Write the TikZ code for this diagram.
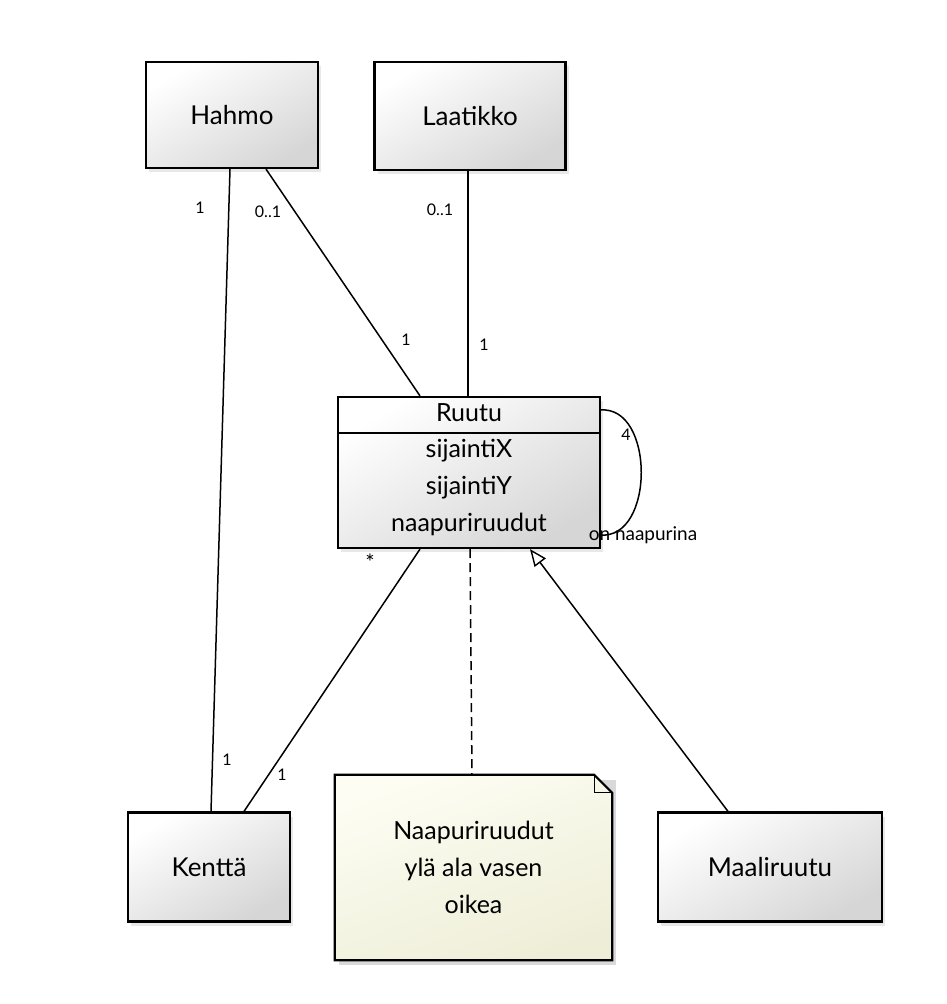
\documentclass[tikz,border=0pt]{standalone}
\usepackage{fontspec}
\setmainfont{Lato}
\usetikzlibrary{arrows.meta,shadows}

\definecolor{notetop}{HTML}{FDFDF3}
\definecolor{notebottom}{HTML}{EEEED8}
\definecolor{boxbottom}{HTML}{D6D6D6}

\tikzset{
  classbox/.style={draw, line width=2.2pt, top color=white, bottom color=boxbottom,
    shading angle=30, drop shadow={opacity=.18, shadow xshift=3pt, shadow yshift=-4pt},
    font=\fontsize{26}{30}\selectfont},
  mult/.style={font=\fontsize{16}{18}\selectfont, inner sep=1pt},
  assoc/.style={line width=1.5pt},
  attr/.style={font=\fontsize{25}{37}\selectfont, align=center, inner sep=0pt}
}

\begin{document}
\begin{tikzpicture}
  [x=1pt,y=-1pt]
  \useasboundingbox (0,0) rectangle (946,1004);
  % classes
  \node[classbox, minimum width=172pt, minimum height=106pt] (hahmo) at (232,115) {Hahmo};
  \node[classbox, minimum width=191pt, minimum height=108pt] (laatikko) at (470,116) {Laatikko};
  \node[classbox, minimum width=162pt, minimum height=109pt] (kentta) at (209,867) {Kenttä};
  \node[classbox, minimum width=224pt, minimum height=109pt] (maali) at (770,867) {Maaliruutu};
  \node[classbox, minimum width=262pt, minimum height=151pt] (ruutu) at (469,472.5) {};
  \draw[line width=1.6pt] (338,433) -- (600,433);
  \node[attr] (ruutunimi) at (469,413) {Ruutu};
  \node[attr] (ruutuattr) at (469,487) {sijaintiX\\sijaintiY\\naapuriruudut};

  % note
  \node[minimum width=277pt, minimum height=185pt, inner sep=0pt] (note) at (473.5,867.5) {};
  \fill[black, opacity=.15] ([shift={(4pt,-5pt)}]note.south west) -- ([shift={(4pt,-5pt)}]note.north west)
    -- ([shift={(4pt,-5pt)}]note.north east) -- ([shift={(4pt,-5pt)}]note.south east) -- cycle;
  \draw[line width=2.2pt, top color=notetop, bottom color=notebottom, shading angle=20]
    (note.south west) -- (note.north west) -- ([xshift=-18pt]note.north east)
    -- ([yshift=-18pt]note.north east) -- (note.south east) -- cycle;
  \draw[line width=1.2pt] ([xshift=-18pt]note.north east) |- ([yshift=-18pt]note.north east);
  \node[attr] (notetext) at (note.center) {Naapuriruudut\\ylä ala vasen\\oikea};

  % associations
  \draw[assoc] ([xshift=-2pt]hahmo.south) -- ([xshift=2pt]kentta.north);
  \draw[assoc] ([xshift=34pt]hahmo.south) -- ([xshift=-49pt]ruutu.north);
  \draw[assoc] ([xshift=-2pt]laatikko.south) -- ([xshift=-1pt]ruutu.north);
  \draw[assoc] ([xshift=-49pt]ruutu.south) -- ([xshift=35pt]kentta.north);
  \draw[assoc, dashed, dash pattern=on 9pt off 5pt] ([xshift=1pt]ruutu.south) -- ([xshift=-1.5pt]note.north);
  \draw[assoc, -{Triangle[open, length=17pt, width=14pt, line width=1.4pt]}]
    ([xshift=-42pt]maali.north) -- ([xshift=61pt]ruutu.south);

  % self association
  \coordinate (loopa) at (600,410);
  \coordinate (loopb) at (600,535);
  \draw[assoc] (loopa) .. controls (655,405) and (655,540) .. (loopb);

  % multiplicities
  \node[mult] (m1) at (200,208) {1};
  \node[mult] (m2) at (227,760) {1};
  \node[mult] (m3) at (268,212) {0..1};
  \node[mult] (m4) at (406,340) {1};
  \node[mult] (m5) at (440,210) {0..1};
  \node[mult] (m6) at (484,345) {1};
  \node[mult, font=\fontsize{22}{22}\selectfont] (m7) at (370,562) {*};
  \node[mult] (m8) at (282,775) {1};
  \node[mult] (m9) at (626,435) {4};
  \node[mult, font=\fontsize{19}{20}\selectfont] (m10) at (643,535) {on naapurina};
\end{tikzpicture}
\end{document}
